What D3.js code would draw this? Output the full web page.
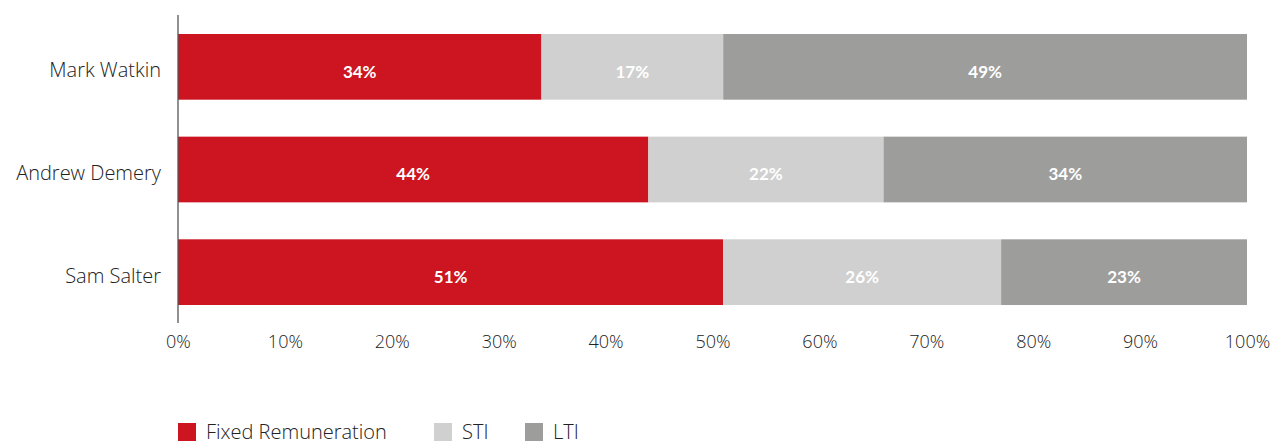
<!DOCTYPE html>
<html>
<head>
<meta charset="utf-8">
<script src="https://cdn.jsdelivr.net/npm/d3@7"></script>
<style>
  body { margin: 0; background: #fff; }
  svg text { font-family: "Open Sans", Lato, sans-serif; }
  .axis text { fill: #222; font-weight: 300; }
  .barlabel { fill: #fff; font-family: Lato, sans-serif; font-weight: 700; font-size: 17px; }
</style>
</head>
<body>
<svg id="vis" width="1271" height="441"></svg>
<script>
// data
const people = ["Mark Watkin", "Andrew Demery", "Sam Salter"];
const series = ["Fixed Remuneration", "STI", "LTI"];
const fixedPct = [34, 44, 51];
const stiPct = [17, 22, 26];
const ltiPct = [49, 34, 23];
const tickValues = [0, 10, 20, 30, 40, 50, 60, 70, 80, 90, 100];
const colors = ["#cc1520", "#d0d0d0", "#9d9d9b"];

const svg = d3.select("svg#vis");

const rows = people.map(function(p, i) {
  return { name: p, "Fixed Remuneration": fixedPct[i], "STI": stiPct[i], "LTI": ltiPct[i] };
});

const x = d3.scaleLinear().domain([0, 100]).range([178, 1247]);
const y = d3.scaleBand()
  .domain(people)
  .range([15, 324])
  .paddingInner(0.36)
  .paddingOuter(0.185);
const color = d3.scaleOrdinal().domain(series).range(colors);

const stacked = d3.stack().keys(series)(rows);

// bars
const layers = svg.append("g").selectAll("g.layer")
  .data(stacked)
  .enter()
  .append("g")
  .attr("class", "layer")
  .attr("fill", function(d) { return color(d.key); });

layers.selectAll("rect")
  .data(function(d) { return d; })
  .enter()
  .append("rect")
  .attr("x", function(d) { return x(d[0]); })
  .attr("y", function(d) { return y(d.data.name); })
  .attr("width", function(d) { return x(d[1]) - x(d[0]); })
  .attr("height", y.bandwidth());

layers.selectAll("text")
  .data(function(d) { return d; })
  .enter()
  .append("text")
  .attr("class", "barlabel")
  .attr("x", function(d) { return (x(d[0]) + x(d[1])) / 2; })
  .attr("y", function(d) { return y(d.data.name) + y.bandwidth() / 2 + 5; })
  .attr("dy", "0.35em")
  .attr("text-anchor", "middle")
  .text(function(d) { return (d[1] - d[0]) + "%"; });

// y axis
const yAxis = svg.append("g")
  .attr("class", "axis")
  .attr("transform", "translate(178,0)")
  .call(d3.axisLeft(y).tickSize(0).tickPadding(17));
yAxis.select(".domain").attr("d", "M0,15V323").attr("stroke", "#555").attr("stroke-width", 1.3);
yAxis.selectAll("text").attr("font-size", 20).attr("y", 4);

// x axis (labels only)
const xAxis = svg.append("g")
  .attr("class", "axis")
  .attr("transform", "translate(0,323)")
  .call(d3.axisBottom(x).tickValues(tickValues).tickFormat(function(d) { return d + "%"; }).tickSize(0).tickPadding(12));
xAxis.select(".domain").remove();
xAxis.selectAll("text").attr("font-size", 18);

// legend
const legendX = [178, 434, 525];
const legend = svg.append("g").selectAll("g")
  .data(series)
  .enter()
  .append("g")
  .attr("transform", function(d, i) { return "translate(" + legendX[i] + ",423)"; });
legend.append("rect")
  .attr("width", 18)
  .attr("height", 18)
  .attr("fill", function(d) { return color(d); });
legend.append("text")
  .attr("x", 28)
  .attr("y", 9)
  .attr("dy", "0.35em")
  .attr("font-size", 20)
  .attr("font-weight", 300)
  .attr("fill", "#222")
  .text(function(d) { return d; });
</script>
</body>
</html>
